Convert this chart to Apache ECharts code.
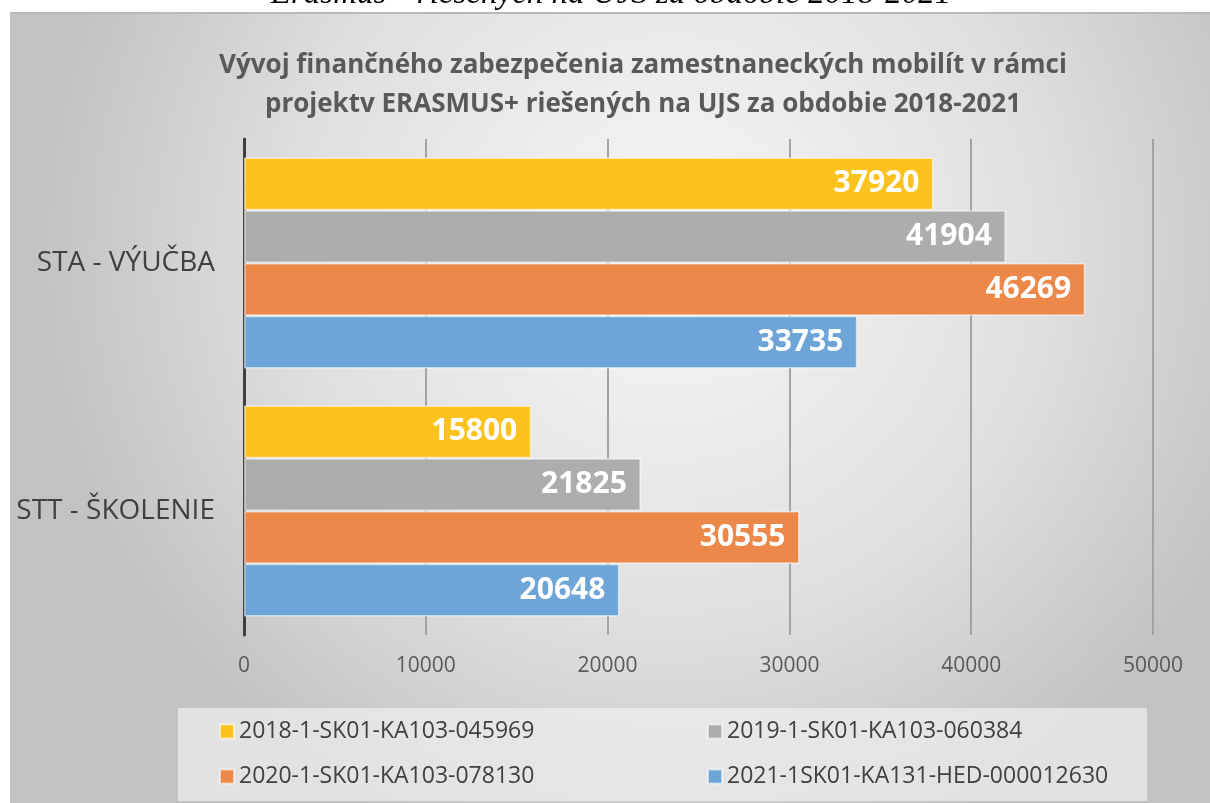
<!DOCTYPE html>
<html>
<head>
<meta charset="utf-8">
<title>ERASMUS+ mobility UJS</title>
<script src="https://cdn.jsdelivr.net/npm/echarts@6/dist/echarts.min.js"></script>
<style>
  html, body { margin: 0; padding: 0; background: #fff; }
  #chart { width: 1210px; height: 803px; }
</style>
</head>
<body>
<div id="chart"></div>
<script>
var categories = ['STA - VÝUČBA', 'STT - ŠKOLENIE'];
var seriesNames = [
  '2018-1-SK01-KA103-045969',
  '2019-1-SK01-KA103-060384',
  '2020-1-SK01-KA103-078130',
  '2021-1SK01-KA131-HED-000012630'
];
var values2018 = [37920, 15800];
var values2019 = [41904, 21825];
var values2020 = [46269, 30555];
var values2021 = [33735, 20648];
var seriesValues = [values2018, values2019, values2020, values2021];
var seriesColors = ['#fcc21e', '#adadad', '#ec894a', '#6ea5d8'];

try {
  var chart = echarts.init(document.getElementById('chart'));

  var series = seriesNames.map(function (name, i) {
    return {
      name: name,
      type: 'bar',
      data: seriesValues[i],
      barGap: '0%',
      barCategoryGap: '15%',
      itemStyle: {
        color: seriesColors[i],
        borderColor: 'rgba(255,255,255,0.55)',
        borderWidth: 1.5
      },
      label: {
        show: true,
        position: 'insideRight',
        distance: 14,
        color: '#ffffff',
        fontFamily: 'Open Sans',
        fontWeight: 'bold',
        fontSize: 30
      }
    };
  });

  var option = {
    animation: false,
    backgroundColor: '#ffffff',
    graphic: [
      {
        type: 'rect',
        z: -10,
        shape: { x: 10, y: 12, width: 1200, height: 791 },
        style: {
          fill: {
            type: 'radial', x: 0.55, y: 0.3, r: 0.8,
            colorStops: [
              { offset: 0, color: '#f7f7f7' },
              { offset: 0.6, color: '#dfdfdf' },
              { offset: 1, color: '#c2c2c2' }
            ]
          }
        }
      },
      {
        type: 'rect',
        z: -9,
        shape: { x: 10, y: 12, width: 1200, height: 2 },
        style: { fill: '#b8b8b8' }
      },
      {
        type: 'text',
        z: -8,
        style: {
          text: 'Erasmus+ riešených na UJS za obdobie 2018-2021',
          x: 611, y: 11,
          textAlign: 'center',
          textVerticalAlign: 'bottom',
          fontFamily: 'Liberation Serif',
          fontStyle: 'italic',
          fontSize: 33,
          fill: '#000000'
        }
      },
      {
        type: 'rect',
        z: -5,
        shape: { x: 178, y: 708, width: 969, height: 93 },
        style: { fill: 'rgba(240,240,240,0.7)' }
      }
    ],
    title: {
      text: 'Vývoj finančného zabezpečenia zamestnaneckých mobilít v rámci\nprojektv ERASMUS+ riešených na UJS za obdobie 2018-2021',
      left: 638,
      top: 41,
      textAlign: 'center',
      textStyle: {
        fontFamily: 'Open Sans',
        fontWeight: 'bold',
        fontSize: 26,
        lineHeight: 39,
        color: '#595959'
      }
    },
    legend: {
      data: seriesNames,
      left: 219,
      top: 714,
      padding: 0,
      width: 980,
      itemWidth: 14,
      itemHeight: 14,
      itemGap: 10,
      icon: 'rect',
      textStyle: {
        fontFamily: 'Open Sans',
        fontSize: 23,
        color: '#404040',
        width: 458,
        lineHeight: 35
      }
    },
    grid: {
      left: 244,
      right: 57,
      top: 139,
      bottom: 168,
      containLabel: false
    },
    xAxis: {
      type: 'value',
      min: 0,
      max: 50000,
      interval: 10000,
      axisLine: { show: false },
      axisTick: { show: false },
      axisLabel: {
        margin: 21,
        fontFamily: 'Open Sans',
        fontSize: 21,
        color: '#595959',
        formatter: function (v) { return String(v); }
      },
      splitLine: {
        lineStyle: { color: '#a3a3a3', width: 2 }
      }
    },
    yAxis: {
      type: 'category',
      data: categories,
      inverse: true,
      axisLine: { lineStyle: { color: '#3f3f3f', width: 3 } },
      axisTick: { show: false },
      axisLabel: {
        margin: 29,
        fontFamily: 'Open Sans',
        fontSize: 28,
        color: '#404040'
      }
    },
    series: series
  };

  chart.setOption(option);
} catch (err) {}
</script>
</body>
</html>
